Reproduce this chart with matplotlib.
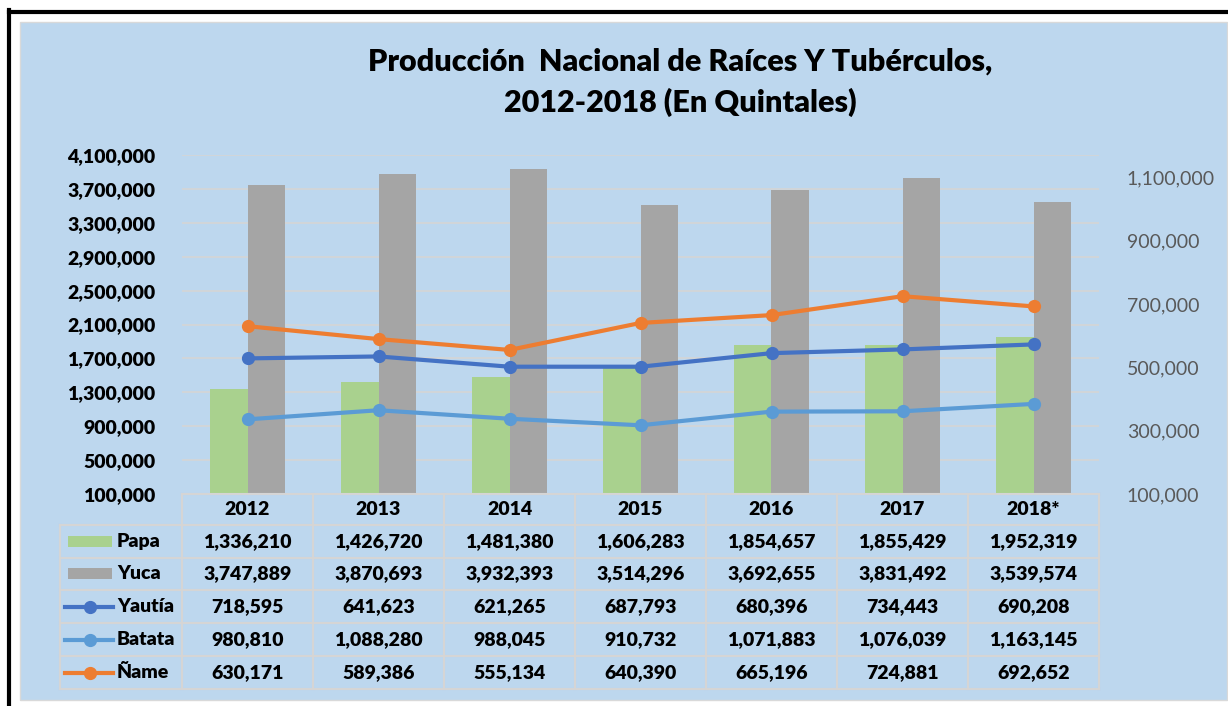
import matplotlib
matplotlib.use("Agg")
import matplotlib.pyplot as plt
import matplotlib.transforms as mtransforms
from matplotlib.lines import Line2D
from matplotlib.patches import Rectangle
import numpy as np

# datos
years = ['2012', '2013', '2014', '2015', '2016', '2017', '2018*']
papa = [1336210, 1426720, 1481380, 1606283, 1854657, 1855429, 1952319]
yuca = [3747889, 3870693, 3932393, 3514296, 3692655, 3831492, 3539574]
yautia = [718595, 641623, 621265, 687793, 680396, 734443, 690208]
batata = [980810, 1088280, 988045, 910732, 1071883, 1076039, 1163145]
name = [630171, 589386, 555134, 640390, 665196, 724881, 692652]
# la linea de Yautia en el grafico no sigue la tabla: valores leidos del eje izq.
yautia_linea = [1700000, 1723000, 1602000, 1602000, 1762000, 1806000, 1865000]

c_papa = '#A9D18E'
c_yuca = '#A5A5A5'
c_yautia = '#4472C4'
c_batata = '#5B9BD5'
c_name = '#ED7D31'
c_grid = '#D5D5D5'
bg = '#BDD7EE'

plt.rcParams['font.family'] = ['Lato', 'DejaVu Sans']
FW = 'heavy'

W, H = 1228, 706
fig = plt.figure(figsize=(W / 100, H / 100), dpi=100, facecolor='white')


def fx(px):
    return px / W


def fy(py):
    return 1 - py / H


# fondo del area del grafico y marco negro
fig.add_artist(Rectangle((fx(20), fy(700)), fx(1227) - fx(20), fy(22) - fy(700),
                         transform=fig.transFigure, facecolor=bg, edgecolor='#D9D9D9', lw=1,
                         zorder=-2))
fig.add_artist(Line2D([fx(9), fx(1228)], [fy(11.5), fy(11.5)], transform=fig.transFigure,
                      color='black', lw=3, zorder=-2))
fig.add_artist(Line2D([fx(9), fx(9)], [fy(10), fy(706)], transform=fig.transFigure,
                      color='black', lw=3, zorder=-2))

fig.text(fx(680), fy(62), 'Producción  Nacional de Raíces Y Tubérculos,', ha='center', va='center',
         fontsize=22, fontweight=FW)
fig.text(fx(680), fy(102), '2012-2018 (En Quintales)', ha='center', va='center',
         fontsize=22, fontweight=FW)

ax = fig.add_axes([fx(182), fy(494), fx(1099) - fx(182), fy(155) - fy(494)])
ax.patch.set_visible(False)
x = np.arange(len(years))
bw = 0.29
ax.bar(x - bw / 2, papa, bw, color=c_papa, zorder=2)
ax.bar(x + bw / 2, yuca, bw, color=c_yuca, zorder=2)
ax.plot(x, yautia_linea, color=c_yautia, lw=3, marker='o', ms=8.5, zorder=4)
ax.plot(x, batata, color=c_batata, lw=3, marker='o', ms=8.5, zorder=4)
ax.set_xlim(-0.5, len(years) - 0.5)
ax.set_ylim(100000, 4100000)
ax.set_yticks(range(100000, 4100001, 400000))
ax.set_yticklabels([f'{v:,}' for v in range(100000, 4100001, 400000)],
                   fontsize=14, fontweight=FW)
ax.set_xticks([])
ax.tick_params(axis='y', length=0, pad=19)
ax.grid(axis='y', color=c_grid, lw=1.2, zorder=0)
for s in ax.spines.values():
    s.set_visible(False)

ax2 = ax.twinx()
ax2.plot(x, name, color=c_name, lw=3, marker='o', ms=8.5, zorder=4)
ax2.set_ylim(100000, 1171000)
ax2.set_yticks(range(100000, 1100001, 200000))
ax2.set_yticklabels([f'{v:,}' for v in range(100000, 1100001, 200000)],
                    fontsize=14, color='#595959')
ax2.tick_params(axis='y', length=0, pad=20)
for s in ax2.spines.values():
    s.set_visible(False)

# tabla de datos
blend = mtransforms.blended_transform_factory(ax.transData, fig.transFigure)
x_left = (60 - 182) / 131 - 0.5
row_edges = [494, 525, 557.5, 590, 623, 656, 689]
n = len(years)
for i, ry in enumerate(row_edges):
    x0 = -0.5 if i == 0 else x_left
    fig.add_artist(Line2D([x0, n - 0.5], [fy(ry), fy(ry)], transform=blend, color=c_grid, lw=1.5))
for j in range(n + 1):
    fig.add_artist(Line2D([j - 0.5, j - 0.5], [fy(494), fy(689)], transform=blend,
                          color=c_grid, lw=1.5))
fig.add_artist(Line2D([x_left, x_left], [fy(525), fy(689)], transform=blend, color=c_grid, lw=1.5))

for j, yr in enumerate(years):
    fig.text(j, fy((row_edges[0] + row_edges[1]) / 2), yr, transform=blend, ha='center',
             va='center', fontsize=14, fontweight=FW)

rows = [('Papa', papa, 'bar', c_papa), ('Yuca', yuca, 'bar', c_yuca),
        ('Yautía', yautia, 'line', c_yautia), ('Batata', batata, 'line', c_batata),
        ('Ñame', name, 'line', c_name)]
for k, (label, vals, kind, col) in enumerate(rows):
    yc = fy((row_edges[k + 1] + row_edges[k + 2]) / 2)
    if kind == 'bar':
        fig.add_artist(Rectangle((fx(68), yc - 5.5 / H), fx(112) - fx(68), 11 / H,
                                 transform=fig.transFigure, facecolor=col, edgecolor='none'))
    else:
        fig.add_artist(Line2D([fx(65), fx(113)], [yc, yc], transform=fig.transFigure,
                              color=col, lw=3))
        fig.add_artist(Line2D([fx(90)], [yc], transform=fig.transFigure, color=col,
                              marker='o', ms=8.5))
    fig.text(fx(117), yc, label, ha='left', va='center', fontsize=14, fontweight=FW)
    for j, v in enumerate(vals):
        fig.text(j, yc, f'{v:,}', transform=blend, ha='center', va='center',
                 fontsize=14, fontweight=FW)

fig.savefig('out.png', dpi=100, facecolor='white')
